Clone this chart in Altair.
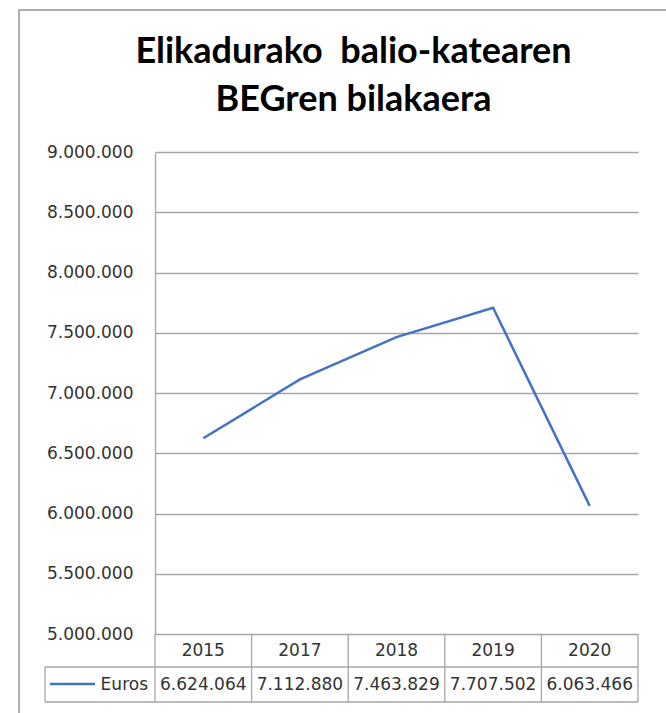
import altair as alt
import pandas as pd

# ---- data ----
years = ["2015", "2017", "2018", "2019", "2020"]
euros = [6624064, 7112880, 7463829, 7707502, 6063466]
y_ticks = [5000000, 5500000, 6000000, 6500000, 7000000, 7500000, 8000000, 8500000, 9000000]
title_lines = ["Elikadurako\u00a0 balio-katearen", "BEGren bilakaera"]
series_name = "Euros"

df = pd.DataFrame({
    "year": years,
    "euros": euros,
    "label": [f"{v:,}".replace(",", ".") for v in euros],
})

W, H = 483, 482
GRAY = "#a6a6a6"
BLUE = "#4472C4"
TXT = "#333333"
FONT = "DejaVu Sans"

one = alt.Data(values=[{}])
xscale = alt.Scale(type="band", paddingInner=0, paddingOuter=0)


def xc(pos=0.5):
    return alt.X("year:N", sort=years, scale=xscale, axis=None, bandPosition=pos)


base = alt.Chart(df)

line = base.mark_line(color=BLUE, strokeWidth=2.5).encode(
    x=xc(0.5),
    y=alt.Y(
        "euros:Q",
        scale=alt.Scale(domain=[5000000, 9000000], nice=False, zero=False),
        axis=alt.Axis(
            values=y_ticks,
            labelExpr="replace(format(datum.value, ',d'), regexp(',', 'g'), '.')",
            grid=True, gridColor=GRAY, gridWidth=1.3,
            domain=True, domainColor=GRAY, domainWidth=1.3,
            ticks=False, labelPadding=22,
            labelFont=FONT, labelFontSize=17, labelColor=TXT,
            title=None,
        ),
    ),
)

# data table: column separators
col_rules = base.mark_rule(color=GRAY, strokeWidth=1.3).encode(
    x=xc(0), y=alt.value(H), y2=alt.value(H + 68)
)
right_rule = alt.Chart(one).mark_rule(color=GRAY, strokeWidth=1.3).encode(
    x=alt.value(W), y=alt.value(H), y2=alt.value(H + 68)
)
legend_left = alt.Chart(one).mark_rule(color=GRAY, strokeWidth=1.3).encode(
    x=alt.value(-110), y=alt.value(H + 33), y2=alt.value(H + 68)
)
row_mid = alt.Chart(one).mark_rule(color=GRAY, strokeWidth=1.3).encode(
    x=alt.value(-110), x2=alt.value(W), y=alt.value(H + 33)
)
row_bot = alt.Chart(one).mark_rule(color=GRAY, strokeWidth=1.3).encode(
    x=alt.value(-110), x2=alt.value(W), y=alt.value(H + 68)
)

year_text = base.mark_text(font=FONT, fontSize=17, color=TXT, baseline="middle").encode(
    x=xc(0.5), y=alt.value(H + 17), text="year:N"
)
value_text = base.mark_text(font=FONT, fontSize=17, color=TXT, baseline="middle").encode(
    x=xc(0.5), y=alt.value(H + 51), text="label:N"
)

legend_line = alt.Chart(one).mark_rule(color=BLUE, strokeWidth=2.5).encode(
    x=alt.value(-105), x2=alt.value(-60), y=alt.value(H + 50)
)
legend_text = alt.Chart(one).mark_text(
    text=series_name, font=FONT, fontSize=17, color=TXT, align="right", baseline="middle"
).encode(x=alt.value(-7), y=alt.value(H + 51))

# outer chart frame (top and left edges visible)
frame_left = alt.Chart(one).mark_rule(color="#b0b0b0", strokeWidth=2).encode(
    x=alt.value(-136), y=alt.value(-142), y2=alt.value(H + 120)
)
frame_top = alt.Chart(one).mark_rule(color="#b0b0b0", strokeWidth=2).encode(
    x=alt.value(-137), x2=alt.value(W + 60), y=alt.value(-142)
)

title = alt.Chart(one).mark_text(
    text=title_lines, font="Lato", fontSize=36, fontWeight="bold", color="black",
    align="center", baseline="alphabetic", lineHeight=48,
).encode(x=alt.value(198.5), y=alt.value(-89))

chart = alt.layer(
    frame_left, frame_top, title,
    line, col_rules, right_rule, legend_left, row_mid, row_bot,
    year_text, value_text, legend_line, legend_text,
).properties(
    width=W, height=H,
    padding={"left": 155, "top": 152, "right": 28, "bottom": 79},
    autosize=alt.AutoSizeParams(type="none"),
    background="white",
).configure_view(stroke=None)

chart.save("out.html", embed_options={"renderer": "svg", "actions": False})
